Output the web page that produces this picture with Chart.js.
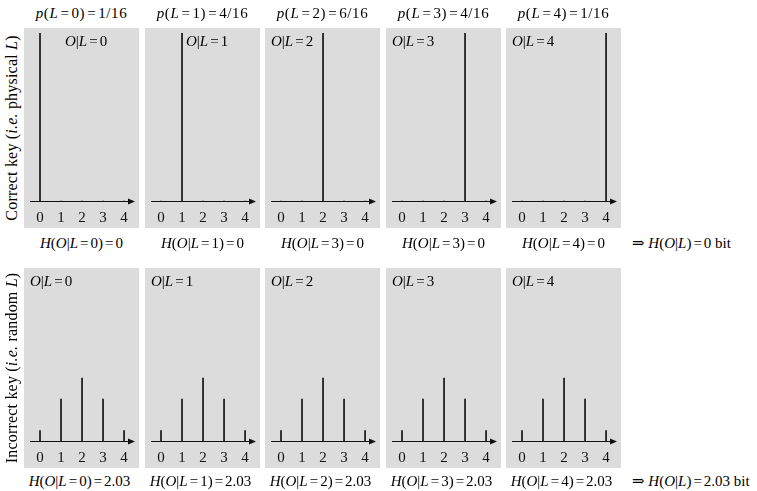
<!DOCTYPE html>
<html>
<head>
<meta charset="utf-8">
<script src="https://cdn.jsdelivr.net/npm/chart.js@4.4.1/dist/chart.umd.min.js"></script>
<style>
    body { margin: 0; background: #fff; width: 757px; height: 491px; position: relative; overflow: hidden; font-family: "Liberation Serif", "DejaVu Serif", serif; font-size: 15px; color: #000; }
    .panel { position: absolute; width: 115px; height: 200px; }
    .panel canvas { position: absolute; left: 0; top: 0; }
    .txt { position: absolute; white-space: nowrap; line-height: 16px; }
    .ctr { transform: translateX(-50%); }
    .rot { transform: translate(-50%, -50%) rotate(-90deg); font-size: 16px; letter-spacing: 0.2px; }
    .wide { letter-spacing: 0.6px; }
    .tag { position: absolute; top: 5px; white-space: nowrap; line-height: 16px; }
    .eq { margin: 0 2px; }
</style>
</head>
<body>
<script>
    const OUTCOMES = [0, 1, 2, 3, 4];
    const PRIOR_NUM = [1, 4, 6, 4, 1];                 // p(L=k) = n/16
    const CORRECT_COUNTS = [                           // O|L=k, counts out of 16
        [16, 0, 0, 0, 0],
        [0, 16, 0, 0, 0],
        [0, 0, 16, 0, 0],
        [0, 0, 0, 16, 0],
        [0, 0, 0, 0, 16],
    ];
    const INCORRECT_COUNTS = [
        [1, 4, 6, 4, 1],
        [1, 4, 6, 4, 1],
        [1, 4, 6, 4, 1],
        [1, 4, 6, 4, 1],
        [1, 4, 6, 4, 1],
    ];
    const TOP_H_INDEX = [0, 1, 3, 3, 4];               // as printed under the top row
    const TOP_H_VALUE = "0";
    const BOTTOM_H_VALUE = "2.03";

    const PANEL_LEFT = [24, 145, 265, 386, 506];
    const ROW_TOP = [28, 268];
    const PANEL_W = 115;
    const PANEL_H = 200;
    const GRAY = "#dcdcdc";
    const INK = "#111";

    const eq = '<span class="eq">=</span>';

    function addText(html, x, y, cls) {
        const d = document.createElement("div");
        d.className = "txt" + (cls ? " " + cls : "");
        d.style.left = x + "px";
        d.style.top = y + "px";
        d.innerHTML = html;
        document.body.appendChild(d);
        return d;
    }

    const panelPlugin = {
        id: "panelDecor",
        beforeDraw(chart) {
            const ctx = chart.ctx;
            ctx.save();
            ctx.fillStyle = GRAY;
            ctx.fillRect(0, 0, chart.width, chart.height);
            ctx.restore();
        },
        afterDraw(chart) {
            const ctx = chart.ctx;
            const xs = chart.scales.x;
            const ys = chart.scales.y;
            const y0 = Math.round(ys.getPixelForValue(0)) + 0.5;
            const left = chart.chartArea.left;
            const right = chart.chartArea.right;
            ctx.save();
            ctx.strokeStyle = INK;
            ctx.fillStyle = INK;
            ctx.lineWidth = 1.2;
            ctx.beginPath();
            ctx.moveTo(left, y0);
            ctx.lineTo(right - 5, y0);
            ctx.stroke();
            ctx.beginPath();
            ctx.moveTo(right, y0);
            ctx.lineTo(right - 7, y0 - 3);
            ctx.lineTo(right - 7, y0 + 3);
            ctx.closePath();
            ctx.fill();
            ctx.font = "15px 'Liberation Serif', serif";
            ctx.textAlign = "center";
            ctx.textBaseline = "middle";
            OUTCOMES.forEach((v) => {
                ctx.fillText(String(v), xs.getPixelForValue(v), y0 + 17);
            });
            ctx.restore();
        },
    };

    function makePanel(row, col, counts, tagHtml, tagLeft) {
        const wrap = document.createElement("div");
        wrap.className = "panel";
        wrap.style.left = PANEL_LEFT[col] + "px";
        wrap.style.top = ROW_TOP[row] + "px";
        const canvas = document.createElement("canvas");
        canvas.width = PANEL_W;
        canvas.height = PANEL_H;
        wrap.appendChild(canvas);
        const tag = document.createElement("div");
        tag.className = "tag";
        tag.style.left = tagLeft + "px";
        tag.innerHTML = tagHtml;
        wrap.appendChild(tag);
        document.body.appendChild(wrap);

        new Chart(canvas, {
            type: "bar",
            data: {
                datasets: [{
                    data: OUTCOMES.map((o, i) => ({ x: o, y: counts[i] })),
                    backgroundColor: INK,
                    borderWidth: 0,
                    barThickness: 1,
                }],
            },
            options: {
                responsive: false,
                animation: false,
                events: [],
                layout: { padding: { left: 6, right: 4, top: 5, bottom: 27 } },
                plugins: { legend: { display: false }, tooltip: { enabled: false } },
                scales: {
                    x: { type: "linear", min: -0.476, max: 4.52, offset: false, display: false },
                    y: { min: 0, max: 16, display: false },
                },
            },
            plugins: [panelPlugin],
        });
    }

    // top row
    for (let k = 0; k < 5; k += 1) {
        const cx = PANEL_LEFT[k] + PANEL_W / 2;
        addText(`<i>p</i>(<i>L</i>${eq}${k})${eq}${PRIOR_NUM[k]}/16`, cx, 5, "ctr wide");
        const tag = `<i>O</i>|<i>L</i>${eq}${k}`;
        makePanel(0, k, CORRECT_COUNTS[k], tag, k < 2 ? 41 : 6);
        addText(`<i>H</i>(<i>O</i>|<i>L</i>${eq}${TOP_H_INDEX[k]})${eq}${TOP_H_VALUE}`, cx, 235, "ctr");
    }
    addText(`\u21d2 <i>H</i>(<i>O</i>|<i>L</i>)${eq}0 bit`, 632, 235);

    // bottom row
    for (let k = 0; k < 5; k += 1) {
        const cx = PANEL_LEFT[k] + PANEL_W / 2;
        const tag = `<i>O</i>|<i>L</i>${eq}${k}`;
        makePanel(1, k, INCORRECT_COUNTS[k], tag, 6);
        addText(`<i>H</i>(<i>O</i>|<i>L</i>${eq}${k})${eq}${BOTTOM_H_VALUE}`, cx - 2, 473, "ctr");
    }
    addText(`\u21d2 <i>H</i>(<i>O</i>|<i>L</i>)${eq}${BOTTOM_H_VALUE} bit`, 632, 473);

    addText(`Correct key (<i>i.e.</i> physical <i>L</i>)`, 12, 128, "rot");
    addText(`Incorrect key (<i>i.e.</i> random <i>L</i>)`, 12, 368, "rot");
</script>
</body>
</html>
